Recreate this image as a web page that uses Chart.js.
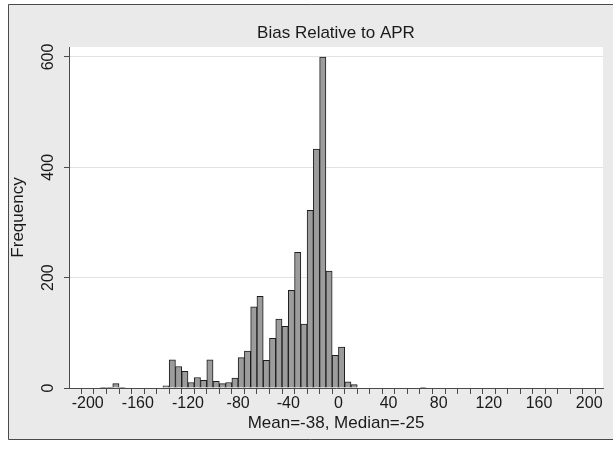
<!DOCTYPE html>
<html>
<head>
<meta charset="utf-8">
<script src="https://cdn.jsdelivr.net/npm/chart.js@4.4.1/dist/chart.umd.min.js"></script>
<style>
    html, body { margin: 0; padding: 0; background: #ffffff; }
    #chart-wrap { width: 613px; height: 450px; }
</style>
</head>
<body>
<div id="chart-wrap"><canvas id="bias-chart" width="613" height="450"></canvas></div>
<script>
// Histogram data (bin width 5, bins start at these values)
const binStarts = [-190, -185, -180, -175, -140, -135, -130, -125, -120, -115, -110, -105, -100, -95, -90, -85,
    -80, -75, -70, -65, -60, -55, -50, -45, -40, -35, -30, -25, -20, -15, -10, -5, 0, 5, 10, 65];
const binCounts = [1, 1, 8, 1, 4, 51, 39, 30, 10, 19, 14, 51, 12, 8, 10, 18,
    55, 67, 147, 166, 50, 90, 125, 112, 177, 246, 116, 322, 433, 600, 212, 59, 74, 11, 6, 1];
const binWidth = 5;

// Axis ticks
const xTicks = [-200, -190, -180, -170, -160, -150, -140, -130, -120, -110, -100, -90, -80, -70, -60, -50, -40, -30, -20, -10,
    0, 10, 20, 30, 40, 50, 60, 70, 80, 90, 100, 110, 120, 130, 140, 150, 160, 170, 180, 190, 200];
const xLabelStep = 40;
const yTicks = [0, 200, 400, 600];

const chartTitle = 'Bias Relative to APR';
const xTitle = 'Mean=-38, Median=-25';
const yTitle = 'Frequency';

const fontFamily = 'Liberation Sans, Arial, sans-serif';
const textColor = '#1a1a1a';
const axisColor = '#4a4a4a';

const ctx = document.getElementById('bias-chart').getContext('2d');

// Stata-like background: framed gray graph region with a white plot region
const backgroundPlugin = {
    id: 'stataBackground',
    beforeDraw: (chart) => {
        const { ctx, chartArea } = chart;
        ctx.save();
        ctx.fillStyle = '#ffffff';
        ctx.fillRect(0, 0, chart.width, chart.height);
        ctx.fillStyle = '#eaeaea';
        ctx.fillRect(8, 4, chart.width - 8, 436);
        ctx.strokeStyle = axisColor;
        ctx.lineWidth = 1;
        ctx.beginPath();
        ctx.moveTo(chart.width, 4.5);
        ctx.lineTo(8.5, 4.5);
        ctx.lineTo(8.5, 439.5);
        ctx.lineTo(chart.width, 439.5);
        ctx.stroke();
        ctx.fillStyle = '#ffffff';
        ctx.fillRect(chartArea.left, chartArea.top, chartArea.right - chartArea.left, chartArea.bottom - chartArea.top);
        ctx.restore();
    }
};

const histData = binStarts.map((start, i) => ({ x: start + binWidth / 2, y: binCounts[i] }));

new Chart(ctx, {
    type: 'bar',
    data: {
        datasets: [{
            label: 'Frequency',
            data: histData,
            xAxisID: 'x',
            yAxisID: 'y',
            backgroundColor: '#9c9c9c',
            borderColor: '#1c1c1c',
            borderWidth: 1,
            barPercentage: 1,
            categoryPercentage: 1,
        }]
    },
    options: {
        responsive: false,
        animation: false,
        devicePixelRatio: 1,
        layout: {
            padding: { left: 0, right: 10, top: 0, bottom: 0 }
        },
        plugins: {
            legend: { display: false },
            tooltip: { enabled: false }
        },
        scales: {
            x: {
                type: 'linear',
                position: 'bottom',
                min: -209.7,
                max: 205.8,
                afterBuildTicks: (scale) => {
                    scale.ticks = xTicks.map(v => ({ value: v }));
                },
                afterFit: (scale) => {
                    scale.height = 62;
                },
                ticks: {
                    autoSkip: false,
                    maxRotation: 0,
                    minRotation: 0,
                    padding: 0,
                    color: textColor,
                    font: { family: fontFamily, size: 16 },
                    callback: (value) => (value % xLabelStep === 0 ? String(value) : '')
                },
                grid: {
                    drawOnChartArea: false,
                    tickLength: 6,
                    tickColor: axisColor,
                    tickWidth: 1
                },
                border: { color: axisColor, width: 1 },
                title: {
                    display: true,
                    text: xTitle,
                    color: textColor,
                    font: { family: fontFamily, size: 17 },
                    padding: { top: 4, bottom: 16.8 }
                }
            },
            // top axis only carries the graph title, so it is centred over the plot region
            titleAxis: {
                type: 'linear',
                axis: 'x',
                position: 'top',
                min: 0,
                max: 1,
                afterFit: (scale) => {
                    scale.height = 47;
                },
                ticks: { display: false },
                grid: { display: false, drawTicks: false },
                border: { display: false },
                title: {
                    display: true,
                    text: chartTitle,
                    color: textColor,
                    font: { family: fontFamily, size: 17 },
                    padding: { top: 22.8, bottom: 0 }
                }
            },
            y: {
                min: 0,
                max: 618.1,
                afterBuildTicks: (scale) => {
                    scale.ticks = yTicks.map(v => ({ value: v }));
                },
                afterFit: (scale) => {
                    scale.width = 69;
                },
                ticks: {
                    minRotation: 90,
                    maxRotation: 90,
                    crossAlign: 'center',
                    padding: 1.65,
                    color: textColor,
                    font: { family: fontFamily, size: 16 }
                },
                grid: {
                    color: '#e2e2e2',
                    tickLength: 5,
                    tickColor: axisColor,
                    lineWidth: 1
                },
                border: { color: axisColor, width: 1 },
                title: {
                    display: true,
                    text: yTitle,
                    color: textColor,
                    font: { family: fontFamily, size: 17 },
                    padding: { top: 7.8, bottom: 4 }
                }
            }
        }
    },
    plugins: [backgroundPlugin]
});
</script>
</body>
</html>
